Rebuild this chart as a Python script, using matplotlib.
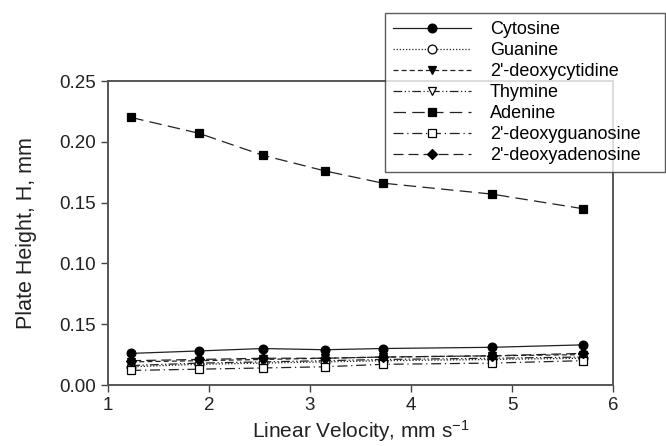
import matplotlib
matplotlib.use("Agg")
import matplotlib.pyplot as plt

plt.rcParams['font.family'] = ['Liberation Sans', 'DejaVu Sans']
plt.rcParams['mathtext.fontset'] = 'custom'
plt.rcParams['mathtext.rm'] = 'Liberation Sans'
plt.rcParams['mathtext.default'] = 'regular'

# linear velocity, mm/s
velocity = [1.23, 1.90, 2.53, 3.15, 3.72, 4.80, 5.70]

# plate height, mm
cytosine = [0.026, 0.028, 0.030, 0.029, 0.030, 0.031, 0.033]
guanine = [0.015, 0.017, 0.018, 0.019, 0.020, 0.021, 0.022]
deoxycytidine = [0.019, 0.020, 0.021, 0.022, 0.023, 0.024, 0.025]
thymine = [0.016, 0.018, 0.019, 0.020, 0.021, 0.022, 0.023]
adenine = [0.220, 0.207, 0.189, 0.176, 0.166, 0.157, 0.145]
deoxyguanosine = [0.012, 0.013, 0.014, 0.015, 0.017, 0.018, 0.020]
deoxyadenosine = [0.020, 0.021, 0.022, 0.022, 0.023, 0.024, 0.026]

y_ticks = [0.00, 0.05, 0.10, 0.15, 0.20, 0.25]
y_tick_labels = ['0.00', '0.15', '0.10', '0.15', '0.20', '0.25']  # as printed in the original
x_ticks = [1, 2, 3, 4, 5, 6]

fig = plt.figure(figsize=(6.66, 4.46), dpi=100)
ax = fig.add_axes([108 / 666, 1 - 385 / 446, 505 / 666, 304 / 446])

series = [
    ('Cytosine', cytosine, 'o', 'k', '-'),
    ('Guanine', guanine, 'o', 'w', (0, (1, 1.5))),
    ("2'-deoxycytidine", deoxycytidine, 'v', 'k', (0, (4, 2.5))),
    ('Thymine', thymine, 'v', 'w', (0, (7, 2, 1, 2, 1, 2))),
    ('Adenine', adenine, 's', 'k', (0, (10, 5))),
    ("2'-deoxyguanosine", deoxyguanosine, 's', 'w', (0, (8, 3, 1, 3))),
    ("2'-deoxyadenosine", deoxyadenosine, 'D', 'k', (0, (8, 4))),
]

for name, vals, mk, fc, ls in series:
    ax.plot(velocity, vals, linestyle=ls, color='#222222', linewidth=0.9,
            marker=mk, markersize=6.3 if mk != 'D' else 5.3,
            markerfacecolor=fc, markeredgecolor='k', markeredgewidth=0.9,
            label=name)

ax.set_xlim(1, 6)
ax.set_ylim(0, 0.25)
ax.set_xticks(x_ticks)
ax.set_yticks(y_ticks)
ax.set_yticklabels(y_tick_labels)
ax.tick_params(direction='out', length=5, width=1, pad=4, labelsize=13.5,
               colors='#444444', labelcolor='#222222')
for sp in ax.spines.values():
    sp.set_color('#555555')
    sp.set_linewidth(1.4)

ax.set_xlabel('Linear Velocity, mm s$^{-1}$', fontsize=15, color='#222222')
ax.set_ylabel('Plate Height, H, mm', fontsize=15.5, color='#222222')
ax.xaxis.set_label_coords(0.5, -0.11)
ax.yaxis.set_label_coords(-0.14, 0.5)

leg = fig.legend(loc='upper left', mode='expand',
                 bbox_to_anchor=(385 / 666, 1 - 170 / 446, 280 / 666, 157 / 446),
                 fontsize=13, frameon=True, fancybox=False, handlelength=4.3,
                 labelspacing=0.22, borderpad=0.45, handletextpad=1.05,
                 borderaxespad=0)
leg.get_frame().set_edgecolor('#333333')
leg.get_frame().set_linewidth(1.0)

fig.savefig('out.png', dpi=100)
